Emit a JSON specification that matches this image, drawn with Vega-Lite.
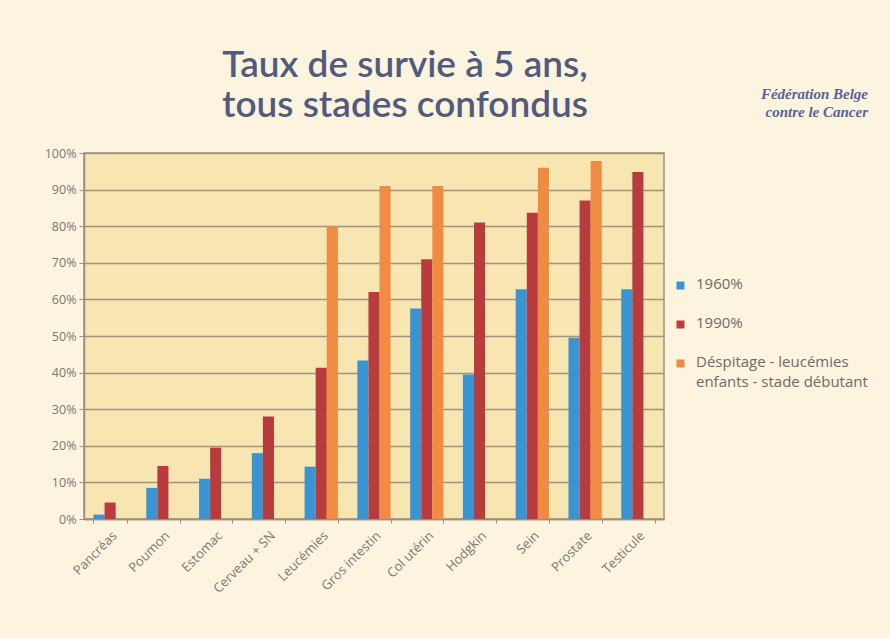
{
  "$schema": "https://vega.github.io/schema/vega-lite/v6.json",
  "width": 580,
  "height": 366,
  "padding": {"left": 44, "top": 47, "right": 25, "bottom": 42},
  "background": "#fcf4de",
  "title": {
    "text": ["Taux de survie à 5 ans,", "tous stades confondus"],
    "font": "Lato",
    "fontSize": 37,
    "fontWeight": 600,
    "color": "#525b7e",
    "lineHeight": 40,
    "anchor": "middle",
    "dx": 31,
    "offset": -38
  },
  "data": {
    "values": [
      {"organe": "Pancréas", "serie": "1960%", "taux": 1.2},
      {"organe": "Pancréas", "serie": "1990%", "taux": 4.5},
      {"organe": "Poumon", "serie": "1960%", "taux": 8.5},
      {"organe": "Poumon", "serie": "1990%", "taux": 14.5},
      {"organe": "Estomac", "serie": "1960%", "taux": 11},
      {"organe": "Estomac", "serie": "1990%", "taux": 19.5},
      {"organe": "Cerveau + SN", "serie": "1960%", "taux": 18},
      {"organe": "Cerveau + SN", "serie": "1990%", "taux": 28},
      {"organe": "Leucémies", "serie": "1960%", "taux": 14.3},
      {"organe": "Leucémies", "serie": "1990%", "taux": 41.3},
      {"organe": "Leucémies", "serie": "Déspitage - leucémies enfants - stade débutant", "taux": 80},
      {"organe": "Gros intestin", "serie": "1960%", "taux": 43.3},
      {"organe": "Gros intestin", "serie": "1990%", "taux": 62},
      {"organe": "Gros intestin", "serie": "Déspitage - leucémies enfants - stade débutant", "taux": 91},
      {"organe": "Col utérin", "serie": "1960%", "taux": 57.5},
      {"organe": "Col utérin", "serie": "1990%", "taux": 71},
      {"organe": "Col utérin", "serie": "Déspitage - leucémies enfants - stade débutant", "taux": 91},
      {"organe": "Hodgkin", "serie": "1960%", "taux": 39.5},
      {"organe": "Hodgkin", "serie": "1990%", "taux": 81},
      {"organe": "Sein", "serie": "1960%", "taux": 62.8},
      {"organe": "Sein", "serie": "1990%", "taux": 83.7},
      {"organe": "Sein", "serie": "Déspitage - leucémies enfants - stade débutant", "taux": 96},
      {"organe": "Prostate", "serie": "1960%", "taux": 49.5},
      {"organe": "Prostate", "serie": "1990%", "taux": 87},
      {"organe": "Prostate", "serie": "Déspitage - leucémies enfants - stade débutant", "taux": 97.8},
      {"organe": "Testicule", "serie": "1960%", "taux": 62.8},
      {"organe": "Testicule", "serie": "1990%", "taux": 94.8}
    ]
  },
  "mark": {"type": "bar"},
  "encoding": {
    "x": {
      "field": "organe",
      "type": "nominal",
      "sort": null,
      "scale": {"paddingInner": 0.37, "paddingOuter": 0.18},
      "axis": {
        "title": null,
        "labelAngle": -45,
        "labelFont": "Open Sans",
        "labelFontSize": 13,
        "labelColor": "#7c7772",
        "labelPadding": 6,
        "tickBand": "extent",
        "tickColor": "#9c8e80",
        "tickSize": 4,
        "domainColor": "#9c8e80",
        "domainWidth": 1.5
      }
    },
    "xOffset": {
      "field": "serie",
      "type": "nominal",
      "scale": {"domain": ["1960%", "1990%", "Déspitage - leucémies enfants - stade débutant"], "paddingInner": 0, "paddingOuter": 0}
    },
    "y": {
      "field": "taux",
      "type": "quantitative",
      "scale": {"domain": [0, 100]},
      "axis": {
        "title": null,
        "values": [0, 10, 20, 30, 40, 50, 60, 70, 80, 90, 100],
        "labelExpr": "datum.value + '%'",
        "labelFont": "Open Sans",
        "labelFontSize": 12.5,
        "labelColor": "#7c7772",
        "labelPadding": 3,
        "tickColor": "#9c8e80",
        "tickSize": 5,
        "domainColor": "#9c8e80",
        "domainWidth": 1.5,
        "gridColor": "#a3927f",
        "gridWidth": 1.5
      }
    },
    "color": {
      "field": "serie",
      "type": "nominal",
      "scale": {
        "domain": ["1960%", "1990%", "Déspitage - leucémies enfants - stade débutant"],
        "range": ["#3b94d2", "#b83c3d", "#ef8b42"]
      },
      "legend": {
        "orient": "none",
        "legendX": 589,
        "legendY": -66,
        "title": ["Fédération Belge", "contre le Cancer"],
        "titleFont": "Liberation Serif",
        "titleFontStyle": "italic",
        "titleFontWeight": "bold",
        "titleFontSize": 15,
        "titleColor": "#56639a",
        "titleAnchor": "end",
        "titleAlign": "right",
        "titleLineHeight": 18,
        "titlePadding": 158,
        "symbolType": "square",
        "symbolSize": 64,
        "symbolStrokeWidth": 0,
        "labelFont": "Open Sans",
        "labelFontSize": 15,
        "labelColor": "#6f6b68",
        "labelLimit": 300,
        "labelOffset": 8,
        "labelBaseline": "top",
        "rowPadding": 23,
        "labelExpr": "datum.label == '1960%' || datum.label == '1990%' ? datum.label : ['Déspitage - leucémies', 'enfants - stade débutant']",
        "encode": {
          "symbols": {"update": {"fill": {"value": "#5b6797"}, "stroke": {"value": "#5b6797"}}},
          "labels": {"update": {"dy": {"value": -9}, "lineHeight": {"value": 20}}}
        }
      }
    }
  },
  "config": {
    "view": {"fill": "#f8e6b2", "stroke": "#a09282", "strokeWidth": 1.5},
    "bar": {"binSpacing": 0}
  }
}
